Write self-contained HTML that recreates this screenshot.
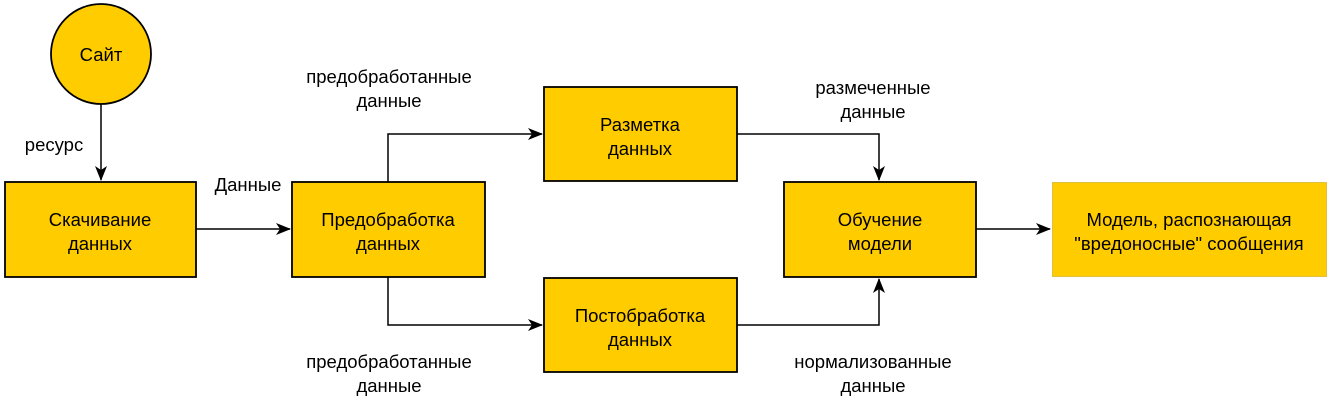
<!DOCTYPE html>
<html><head><meta charset="utf-8"><style>
html,body{margin:0;padding:0;background:#fff;}
svg{display:block;font-family:"Liberation Sans",Arial,sans-serif;font-size:18.5px;}
</style></head><body>
<svg width="1340" height="411" viewBox="0 0 1340 411" xmlns="http://www.w3.org/2000/svg">
<defs><marker id="a" markerWidth="16" markerHeight="14" refX="14" refY="6" orient="auto" markerUnits="userSpaceOnUse"><path d="M0,0 L15,6 L0,12 L4,6 Z" fill="#000"/></marker></defs>
<g fill="#FFCC00" stroke="#000" stroke-width="1.8">
<circle cx="101" cy="54" r="50"/>
<rect x="5" y="182" width="191" height="95"/>
<rect x="292" y="182" width="193" height="95"/>
<rect x="544" y="87" width="193" height="94"/>
<rect x="544" y="278" width="193" height="94"/>
<rect x="784" y="182" width="192" height="95"/>
</g>
<rect x="1052.5" y="182.5" width="274" height="94" fill="#FFCC00" stroke="#E0C040" stroke-width="1"/>
<g stroke="#000" stroke-width="1.5" fill="none">
<path d="M101,104 V180" marker-end="url(#a)"/>
<path d="M196,229 H290" marker-end="url(#a)"/>
<path d="M388,182 V134 H542" marker-end="url(#a)"/>
<path d="M388,277 V325 H542" marker-end="url(#a)"/>
<path d="M737,134 H879 V180" marker-end="url(#a)"/>
<path d="M737,325 H879 V279" marker-end="url(#a)"/>
<path d="M976,229 H1050" marker-end="url(#a)"/>
</g>
<g fill="#000" text-anchor="middle">
<text x="101" y="61">Сайт</text>
<text x="100" y="226">Скачивание</text><text x="100" y="250">данных</text>
<text x="388" y="226">Предобработка</text><text x="388" y="250">данных</text>
<text x="640" y="131">Разметка</text><text x="640" y="155">данных</text>
<text x="640" y="322">Постобработка</text><text x="640" y="346">данных</text>
<text x="880" y="226">Обучение</text><text x="880" y="250">модели</text>
<text x="1189" y="226">Модель, распознающая</text><text x="1189" y="250">"вредоносные" сообщения</text>
<text x="54" y="151">ресурс</text>
<text x="248" y="191">Данные</text>
<text x="389" y="83">предобработанные</text><text x="389" y="107">данные</text>
<text x="389" y="368">предобработанные</text><text x="389" y="392">данные</text>
<text x="873" y="94">размеченные</text><text x="873" y="118">данные</text>
<text x="873" y="368">нормализованные</text><text x="873" y="392">данные</text>
</g>
</svg>
</body></html>
